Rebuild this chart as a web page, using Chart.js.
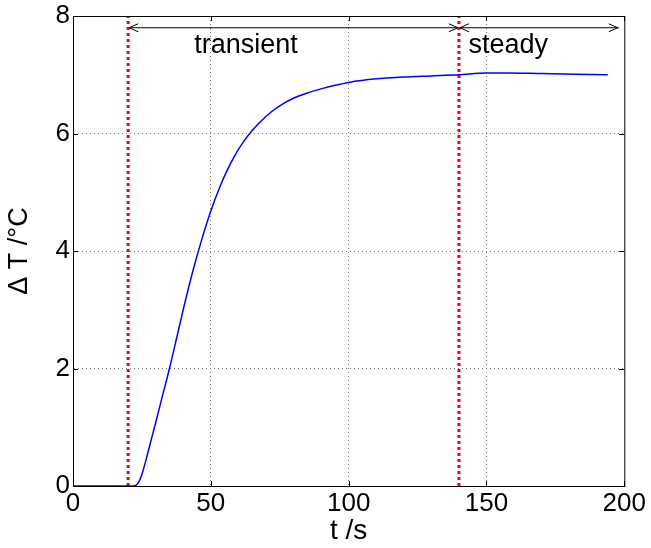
<!DOCTYPE html>
<html>
<head>
<meta charset="utf-8">
<script src="https://cdn.jsdelivr.net/npm/chart.js"></script>
<style>
  body { margin: 0; background: #fff; }
  #wrap { width: 651px; height: 548px; }
</style>
</head>
<body>
<div id="wrap"><canvas id="tempChart" width="651" height="548"></canvas></div>
<script>
// temperature rise over time
var tSec = [0, 10, 22, 23, 24, 25, 26, 28, 30, 32, 35, 38, 41, 44, 47, 50, 53, 56, 59, 62,
            65, 68, 72, 76, 80, 85, 90, 95, 100, 110, 120, 130, 140, 150, 158, 170, 182, 194];
var deltaT = [0, 0, 0, 0.02, 0.08, 0.2, 0.36, 0.72, 1.08, 1.45, 2.0, 2.6, 3.2, 3.75, 4.24, 4.68, 5.06, 5.38, 5.65, 5.87,
              6.05, 6.2, 6.37, 6.5, 6.6, 6.69, 6.76, 6.82, 6.87, 6.93, 6.96, 6.98, 7.0, 7.03, 7.03, 7.02, 7.01, 7.0];

// phase boundaries and their labels
var markerT = [20, 140];
var spanStart = [20, 140];
var spanEnd = [140, 198];
var spanLabel = ['transient', 'steady'];
var spanLabelT = [44, 143.5];
var arrowY = 7.8;
var labelY = 7.5;

var xTicks = [0, 50, 100, 150, 200];
var yTicks = [0, 2, 4, 6, 8];

var datasets = [{
    data: tSec.map(function(t, i) { return {x: t, y: deltaT[i]}; }),
    borderColor: '#0000ff',
    borderWidth: 1.5,
    pointRadius: 0,
    cubicInterpolationMode: 'monotone'
}];

for (var i = 0; i < markerT.length; i++) {
    datasets.push({
        data: [{x: markerT[i], y: 0}, {x: markerT[i], y: 8}],
        borderColor: '#ff0000',
        borderWidth: 3,
        borderDash: [3, 3],
        pointRadius: 0
    });
}
for (var j = 0; j < spanStart.length; j++) {
    datasets.push({
        data: [{x: spanStart[j], y: arrowY}, {x: spanEnd[j], y: arrowY}],
        borderColor: '#000',
        borderWidth: 1,
        pointRadius: 0
    });
}

// box, inner ticks, arrow heads and phase labels
var extrasPlugin = {
    id: 'extras',
    afterDatasetsDraw: function(chart) {
        var ctx = chart.ctx;
        var xs = chart.scales.x, ys = chart.scales.y;
        var a = chart.chartArea;
        ctx.save();
        ctx.setLineDash([]);
        ctx.strokeStyle = '#000';
        ctx.lineWidth = 1;
        ctx.strokeRect(a.left + 0.5, a.top + 0.5, a.right - a.left, a.bottom - a.top);

        ctx.beginPath();
        xTicks.forEach(function(v) {
            var px = Math.round(xs.getPixelForValue(v)) + 0.5;
            ctx.moveTo(px, a.bottom); ctx.lineTo(px, a.bottom - 5);
            ctx.moveTo(px, a.top); ctx.lineTo(px, a.top + 5);
        });
        yTicks.forEach(function(v) {
            var py = Math.round(ys.getPixelForValue(v)) + 0.5;
            ctx.moveTo(a.left, py); ctx.lineTo(a.left + 5, py);
            ctx.moveTo(a.right, py); ctx.lineTo(a.right - 5, py);
        });
        ctx.stroke();

        var ay = ys.getPixelForValue(arrowY);
        ctx.beginPath();
        for (var k = 0; k < spanStart.length; k++) {
            var x1 = xs.getPixelForValue(spanStart[k]) + 1;
            var x2 = xs.getPixelForValue(spanEnd[k]) - 1;
            ctx.moveTo(x1 + 9, ay - 4); ctx.lineTo(x1, ay); ctx.lineTo(x1 + 9, ay + 4);
            ctx.moveTo(x2 - 9, ay - 4); ctx.lineTo(x2, ay); ctx.lineTo(x2 - 9, ay + 4);
        }
        ctx.stroke();

        ctx.fillStyle = '#000';
        ctx.font = '27px "Liberation Sans", Arial, sans-serif';
        ctx.textBaseline = 'middle';
        ctx.textAlign = 'left';
        for (var m = 0; m < spanLabel.length; m++) {
            ctx.fillText(spanLabel[m], xs.getPixelForValue(spanLabelT[m]), ys.getPixelForValue(labelY));
        }
        ctx.restore();
    }
};

var tickFont = {family: '"Liberation Sans", Arial, sans-serif', size: 26, lineHeight: 1};

new Chart(document.getElementById('tempChart'), {
    type: 'line',
    data: {datasets: datasets},
    options: {
        responsive: false,
        animation: false,
        layout: {padding: {top: 14, right: 25, left: 0, bottom: 0}},
        plugins: {legend: {display: false}, tooltip: {enabled: false}},
        scales: {
            x: {
                type: 'linear',
                min: 0, max: 200,
                afterFit: function(scale) { scale.height = 62; },
                afterBuildTicks: function(scale) { scale.ticks = xTicks.map(function(v) { return {value: v}; }); },
                grid: {
                    color: function(c) { return (c.tick && (c.tick.value === 0 || c.tick.value === 200)) ? 'rgba(0,0,0,0)' : '#777'; },
                    drawTicks: false
                },
                border: {display: true, color: '#000', width: 1, dash: [1, 3]},
                ticks: {color: '#000', font: tickFont, padding: 5, maxRotation: 0},
                title: {display: true, text: 't /s', color: '#000',
                        font: {family: '"Liberation Sans", Arial, sans-serif', size: 28}, padding: {top: 0, bottom: 0}}
            },
            y: {
                min: 0, max: 8,
                afterFit: function(scale) { scale.width = 73; },
                afterBuildTicks: function(scale) { scale.ticks = yTicks.map(function(v) { return {value: v}; }); },
                grid: {
                    color: function(c) { return (c.tick && (c.tick.value === 0 || c.tick.value === 8)) ? 'rgba(0,0,0,0)' : '#777'; },
                    drawTicks: false
                },
                border: {display: true, color: '#000', width: 1, dash: [1, 3]},
                ticks: {color: '#000', font: tickFont, padding: 3},
                title: {display: true, text: 'Δ T /°C', color: '#000',
                        font: {family: '"Liberation Sans", Arial, sans-serif', size: 27}, padding: {top: 3, bottom: 0}}
            }
        }
    },
    plugins: [extrasPlugin]
});
</script>
</body>
</html>
